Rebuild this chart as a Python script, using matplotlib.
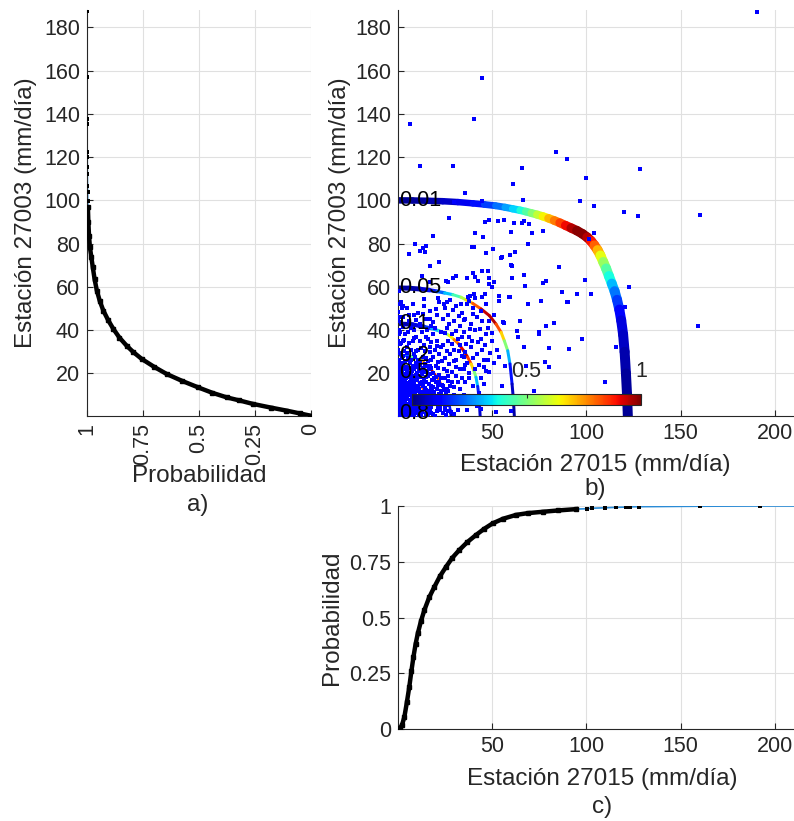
import numpy as np
import matplotlib
matplotlib.use("Agg")
import matplotlib.pyplot as plt
from matplotlib.collections import LineCollection
from matplotlib import cm, colors

plt.rcParams['font.family'] = ['Liberation Sans', 'DejaVu Sans']

# ---------------- data ----------------
# a) empirical CDF, station 27003
v27003 = [0.5, 1.5, 2.8, 4.2, 5.9, 7.5, 8.9, 11, 13.5, 16.5, 19.7, 23, 26.7, 30, 32.8,
          36.5, 40.5, 44.5, 49, 53.5, 58.3, 63.5, 69, 74, 78.3, 83.7, 90, 96.8]
p27003 = [0.005, 0.05, 0.11, 0.18, 0.26, 0.32, 0.376, 0.44, 0.503, 0.575, 0.644, 0.70,
          0.756, 0.795, 0.823, 0.855, 0.882, 0.905, 0.927, 0.943, 0.956, 0.966, 0.974,
          0.981, 0.987, 0.991, 0.994, 0.996]
v27003_tail = [99.9, 103.7, 106.5, 112.2, 115.3, 119.9, 122.2, 135.3, 137.7, 156.9, 187.7]
p27003_tail = [0.997, 0.9975, 0.998, 0.9985, 0.9988, 0.999, 0.9992, 0.9994, 0.9996, 0.9998, 1.0]

# c) empirical CDF, station 27015
x27015 = [0.5, 1.4, 2.5, 3.7, 5, 6.3, 7.4, 8.5, 9.6, 10.8, 12.5, 14.3, 16.8, 19.6, 22.5,
          25.8, 29, 32.8, 37, 41.6, 46, 50.4, 56, 62.8, 69, 76.9, 85, 94.6]
p27015 = [0, 0.003, 0.02, 0.055, 0.12, 0.19, 0.26, 0.324, 0.38, 0.429, 0.485, 0.534, 0.59,
          0.638, 0.685, 0.728, 0.767, 0.803, 0.838, 0.87, 0.898, 0.922, 0.943, 0.96, 0.968,
          0.974, 0.98, 0.986]
x27015_tail = [100.5, 103, 110, 116, 121, 123, 128, 160, 192]
p27015_tail = [0.988, 0.99, 0.992, 0.994, 0.995, 0.996, 0.997, 0.999, 1.0]
# fitted CDF end (blue line runs to the axis end)
x27015_fit_end = [210]
p27015_fit_end = [1.0]

# b) paired observations (27015, 27003)
pairs_sparse = [
    (190.3, 187.1), (44.6, 156.6), (40.4, 137.7), (6.9, 135.2), (12, 115.8), (29.5, 115.8),
    (84, 122.2), (90, 119), (66, 115.1), (128.2, 114.7), (61, 107.6), (99.8, 110.4),
    (120, 94.7), (127.2, 92.8), (160.3, 93.3), (122.8, 60), (120.5, 50.9), (159.3, 41.8),
    (116, 32), (110, 16.2), (96.6, 99.9), (104.2, 97.6), (104.2, 84.8), (101.6, 82.2),
    (85.7, 69.4), (99.3, 63.2), (87, 57.5), (94.9, 56.6), (102.5, 56.6), (89.6, 53.2),
    (98, 35.9), (35.8, 103.6), (66.5, 100.3), (29.8, 99.1), (44.6, 99.6), (27.1, 91.7),
    (46.4, 89.9), (48.3, 91), (53.4, 90.3), (56.3, 91.1), (61.5, 89.4), (66, 89.4),
    (66.8, 90.6), (69.8, 89.1), (77.2, 86), (71.3, 84.8), (60, 85.5), (41.3, 85.1),
    (45.1, 82.9), (19, 83.7), (69, 79.9), (9.5, 79.9), (15.2, 78.9), (13.5, 77.9),
    (12.2, 76.5), (14.6, 76), (6.3, 75.2), (39.3, 78.3), (40.7, 78.3), (50.6, 77.4),
    (46.9, 75.5), (62.4, 76), (59.8, 74.9), (54.9, 73.4), (22.2, 71.7), (17.5, 69.8),
    (44.6, 67.5), (47.7, 67.3), (39.9, 66.4), (60.2, 70.3), (36.7, 64.1), (31, 65.2),
    (29.3, 64.1), (12.9, 65.2), (41.2, 64.6), (48.3, 64.1), (25.8, 62.9), (27, 62.1),
    (51, 62.1), (60.5, 64), (78.7, 62.9), (17, 62.1), (49.9, 60.1), (59.8, 55.5), (54, 53.6),
    (69, 52.1), (76, 53.6), (38.6, 56), (41, 55), (44.6, 55.3), (46.4, 56.8), (21.7, 54.9),
    (14.3, 54.2), (24.6, 52.3), (2.6, 50.3), (33.5, 51.9), (78.7, 41.8), (75.1, 38.2),
    (56.6, 43.1), (67.2, 32), (68.1, 23.6), (80.4, 22.8), (91, 31.3), (63.7, 36.7), (54, 6),
    (52.2, 2), (55.2, 73.7), (60.7, 69.8), (42.6, 62.9), (48.7, 61.4), (67.2, 65.5),
    (77.2, 61.7), (67.6, 60.5), (90.1, 52.9), (59.3, 55.2), (54, 55.7), (40.7, 56.7),
    (38.1, 53.6), (64.9, 44.4), (55.7, 43.6), (48.3, 44), (63.1, 39.8), (74.8, 39),
    (83, 43.3), (80, 31.6), (78.3, 25.1), (54, 27.4), (48, 26), (48.7, 20.5), (55.4, 14.3),
    (57.1, 23.4), (72.5, 12), (78.7, 6.6), (60.2, 2.8), (44.3, 3.5), (3.2, 51.3), (1.2, 46),
    (2.8, 35.1),
]
pairs_mid = [
    (22, 53), (25, 50), (28, 54), (31, 51), (34, 48), (37, 52), (40, 50), (44, 49), (47, 52),
    (21, 47), (24, 45), (27, 47), (30, 44), (33, 42), (36, 45), (39, 43), (42, 46), (45, 44),
    (48, 41), (51, 47), (20, 41), (23, 39), (26, 41), (29, 38), (32, 36), (35, 39), (38, 37),
    (41, 40), (44, 36), (47, 38), (50, 35), (21, 35), (24, 33), (27, 35), (30, 31), (33, 33),
    (36, 30), (39, 32), (42, 29), (45, 31), (22, 29), (25, 27), (28, 29), (31, 26), (34, 28),
    (37, 25), (40, 27), (43, 24), (46, 26), (35, 22), (38, 20), (41, 22), (44, 18), (47, 21),
    (36, 16), (40, 14), (43, 11), (46, 15), (39, 8), (42, 5), (45, 9), (37, 3), (33, 6),
    (30, 10), (2, 53), (5, 50), (8, 52), (11, 48), (14, 51), (17, 49), (3, 46), (6, 44),
    (9, 47), (12, 43), (15, 45), (18, 42), (1, 40), (4, 38), (7, 41), (10, 37), (13, 39),
    (16, 36), (19, 38), (2, 34), (5, 32), (8, 35), (11, 31), (14, 33), (17, 30), (3, 28),
    (6, 26), (9, 29), (12, 25), (15, 27), (18, 26), (23, 18), (26, 21), (29, 16), (31, 19),
    (33, 13), (26, 12.8), (29, 9), (24, 7.2), (32, 3.2), (28, 14), (34, 18), (31, 23),
    (22, 16), (25, 3), (35, 10), (36, 24), (38, 18), (30, 5.8), (27, 18.6), (24.5, 22),
    (21.6, 22.5),
]
pairs_core = [
    (0.5, 1), (1.5, 2.5), (3, 1.2), (4, 3), (5.5, 0.8), (7, 2), (8.5, 1.5), (10, 2.8),
    (11.5, 0.9), (13, 2.2), (15, 1.4), (17, 2.9), (19, 1), (21, 2.4), (24, 1.6), (27, 2.7),
    (30, 1.1), (1, 4.2), (2.5, 5.5), (4.5, 4.8), (6, 6), (7.5, 4.3), (9, 5.7), (10.5, 4.6),
    (12, 6.2), (14, 4.9), (16, 5.8), (18, 4.4), (20, 6.1), (22.5, 5), (25, 4.5), (28, 5.9),
    (0.8, 7.5), (2.2, 8.6), (3.8, 7.2), (5.2, 9), (6.8, 7.8), (8.2, 8.9), (9.8, 7.4),
    (11.2, 9.3), (12.8, 7.9), (14.5, 8.8), (16.5, 7.5), (18.5, 9.1), (21, 8), (23.5, 9.4),
    (26, 7.6), (0.5, 10.5), (2, 11.8), (3.5, 10.2), (5, 12), (6.5, 10.8), (8, 12.4),
    (9.5, 10.6), (11, 11.9), (13, 10.3), (15, 12.2), (17, 10.9), (19.5, 11.6), (22, 10.4),
    (24.5, 12.5), (1.2, 13.5), (2.8, 14.8), (4.3, 13.2), (6, 15), (7.5, 13.8), (9, 15.3),
    (10.8, 13.6), (12.5, 14.9), (14.5, 13.4), (16.8, 15.1), (19, 13.9), (21.5, 14.7),
    (1, 16.8), (2.5, 18), (4, 16.5), (5.8, 18.4), (7.2, 17), (8.8, 18.6), (10.5, 16.9),
    (12.2, 18.2), (14, 17.3), (16, 18.8), (18.3, 17.1), (20.5, 18.5), (0.6, 20), (2, 21.5),
    (3.7, 19.8), (5.3, 21.2), (7, 20.3), (8.6, 21.8), (10.3, 20.1), (12, 21.6), (14, 20.6),
    (16.5, 21.9), (19, 20.4), (1.4, 23.3), (3, 24.6), (4.7, 23), (6.5, 24.8), (8.3, 23.5),
    (10, 25), (12, 23.8), (14.5, 24.4), (17, 23.2), (1.8, 0.6), (3.3, 2), (4.8, 1.9),
    (6.2, 3.4), (7.8, 0.7), (9.3, 3.6), (2, 3.5), (0.3, 5.8), (3.2, 6.5), (5.8, 2.6),
    (8.8, 6.8), (11, 3.5), (13.5, 5.5), (1.5, 9.6), (4.4, 11), (7.3, 9.9), (0.9, 12.5),
    (3.9, 15.9), (6.7, 16.2), (9.7, 19.1), (0.4, 18.9), (2.9, 22.4), (0.7, 26), (2, 29),
    (0.3, 31), (0.5, 35), (0.4, 44), (1.6, 39), (0.6, 52), (0.9, 58), (0.6, 3), (2.6, 0.5),
    (4.2, 6.3), (6.6, 4.5), (1.1, 11.2), (3.1, 12.9), (5.6, 13.9), (8.1, 14.4), (2.3, 16),
    (4.8, 19.4), (7.9, 22.4), (11.6, 12.8), (15.6, 9.8), (13.2, 16.2), (17.6, 13),
    (19.8, 8.2), (23, 12), (25.5, 10.3), (11, 22.8), (15.3, 23.3),
]
pairs_core2 = [
    (1.3, 0.3), (2.4, 1.4), (3.9, 0.4), (5.1, 2.7), (6.6, 1.3), (7.4, 3.1), (8.9, 0.4),
    (9.6, 2.1), (10.8, 1.8), (12.3, 3.2), (12.6, 0.5), (14.2, 3.5), (15.8, 0.6), (16.3, 2.3),
    (18, 1.7), (20, 0.4), (22.6, 3.3), (25.6, 0.7), (28.5, 2.2), (0.9, 5.1), (1.9, 6.8),
    (3.4, 4.1), (5, 5.8), (6.9, 6.7), (8.1, 5), (9.9, 6.3), (11.5, 5.4), (13, 4.2),
    (14.8, 6.6), (17, 4.8), (19.2, 6.9), (21.3, 4.2), (23.8, 6.4), (26.5, 5.3), (1.6, 8.2),
    (3.1, 9.4), (4.5, 8), (6, 9.8), (7.6, 8.5), (9, 9.9), (10.6, 8.3), (12, 10.2),
    (13.8, 9.5), (15.6, 8.1), (17.7, 9.8), (20.2, 9.2), (22.6, 7.3), (25, 9), (28, 8.3),
    (1.8, 12.6), (3.6, 11.6), (5.3, 10.6), (7, 12.6), (8.7, 11.3), (10.2, 12.8), (12, 11.5),
    (14, 11.3), (16, 11.8), (18.2, 12.3), (20.8, 12.6), (23.3, 11.2), (26.8, 12), (0.7, 15),
    (2, 14.2), (3.4, 14.3), (5, 15.7), (6.8, 14.1), (8.3, 16.4), (10, 14.4), (11.7, 15.7),
    (13.5, 14.3), (15.3, 15.9), (17.8, 14.3), (20.3, 15.8), (23.8, 14.8), (1.6, 18.7),
    (3.2, 17.2), (4.7, 18), (6.4, 19.6), (7.9, 18.1), (9.4, 17.3), (11.3, 19), (13, 19.6),
    (15, 18.2), (17.2, 19.6), (19.5, 17.7), (22, 19.3), (1.1, 22), (2.6, 20.6), (4.1, 22.2),
    (6, 22.5), (7.6, 21.1), (9.3, 23.1), (11.2, 21.2), (13.3, 22.7), (15.6, 20.7), (18, 22.3),
    (20.5, 23.6), (0.9, 25.4), (2.3, 26.9), (4, 25.8), (5.6, 27.2), (7.4, 26), (9.3, 27.6),
    (11, 26.3), (13.4, 27.8), (16, 25.6), (19, 27.4), (21.4, 25.3), (1.4, 29.6), (3.4, 30.5),
    (5.2, 29.3), (7.2, 31), (9.6, 30.2), (12.3, 31.6), (14.6, 30.3), (17.2, 32.2),
    (19.8, 30.9), (1.1, 33.5), (3.6, 35.4), (6, 34.2), (8.6, 36.5), (12, 34.8), (15, 36.9),
    (18, 34.5), (21, 32.8), (0.8, 38.2), (2.8, 41.6), (5.6, 39), (9, 40.2), (12, 41.8),
    (15.5, 40), (19, 43.6), (0.5, 48.5), (1.8, 43.8), (6, 47.2), (9.8, 44.5), (13.5, 47.3),
    (17, 45.2), (20.5, 49.6), (24, 14.2), (27, 16.6), (30, 13.5), (32, 16), (25.2, 17.8),
    (28.8, 20.8), (33, 21.8), (30.2, 25.5), (27.5, 24.3), (23.5, 25.6), (35.5, 27.5),
    (32.5, 30.3), (29, 33.6), (26.5, 30.5), (23.2, 32), (36.5, 33.5), (34, 36.8), (31, 39.8),
    (27.5, 43), (25, 38.5), (38.5, 40.5), (35, 44.6), (32.5, 46.6), (29.5, 49.5), (26, 53),
    (42.5, 34.5), (40, 47.5), (37.5, 55.3), (46.5, 33), (50, 38.7), (43.5, 40.5), (49, 29.5),
    (52.5, 31), (51, 25), (46, 23), (39.5, 35),
]

# b) probability isolines: x (27015), y (27003), colour value along the line
levels = ['0.01', '0.05', '0.1', '0.2', '0.5', '0.8']
c01_x = [0, 8, 16, 24, 32, 40, 46, 52, 57, 61, 65, 68, 71, 74, 77, 80, 83, 86, 89, 92, 95, 98,
         100.5, 102.5, 104.3, 106, 107.5, 109, 110.5, 112, 113.5, 115, 116.3, 117.5, 118.5,
         119.5, 120.3, 121, 121.6, 122]
c01_y = [100, 99.95, 99.8, 99.6, 99.2, 98.6, 98.1, 97.5, 96.8, 96.1, 95.4, 94.8, 94.1, 93.4,
         92.6, 91.7, 90.7, 89.6, 88.4, 87.2, 86.0, 84.5, 82.9, 81.2, 79.2, 77, 74.5, 71.5, 68.5,
         65, 61.5, 58, 54, 49.5, 44.5, 38, 30, 20, 10, 0.3]
c01_c = [0.02, 0.02, 0.03, 0.05, 0.08, 0.12, 0.16, 0.21, 0.26, 0.31, 0.36, 0.42, 0.48, 0.55,
         0.62, 0.68, 0.75, 0.81, 0.87, 0.93, 0.98, 1.0, 0.98, 0.92, 0.85, 0.76, 0.67, 0.58,
         0.49, 0.41, 0.34, 0.27, 0.21, 0.15, 0.1, 0.07, 0.05, 0.03, 0.02, 0.02]
c05_x = [0, 6, 12, 17, 21, 25, 29.3, 33.7, 36.3, 39.8, 44.3, 48.7, 52.2, 54.9, 56.6, 58.4,
         59.6, 60.7, 61.4, 61.9]
c05_y = [59.5, 59.4, 59.0, 58.5, 57.9, 57.2, 56.4, 55.2, 54.0, 52.4, 49.8, 46.7, 42.8, 39.0,
         35.1, 30.5, 24.4, 15.1, 8, 0.3]
c05_c = [0.03, 0.03, 0.05, 0.1, 0.18, 0.27, 0.37, 0.5, 0.62, 0.75, 0.88, 1.0, 0.9, 0.75,
         0.62, 0.4, 0.2, 0.08, 0.04, 0.03]
c1_x = [0, 8, 14, 18, 22, 25, 27.5, 30, 32.5, 35, 37.2, 39, 40.5, 41.6, 42.5, 43.2, 43.8]
c1_y = [43, 42.6, 41.6, 40.8, 39.7, 38.7, 37.5, 35.6, 33.6, 30.5, 27.5, 24.4, 21.3, 18.2,
        14, 9, 0.3]
c1_c = [0.03, 0.05, 0.12, 0.22, 0.37, 0.48, 0.58, 0.72, 0.85, 0.98, 0.92, 0.76, 0.6, 0.4,
        0.22, 0.1, 0.04]
c2_x = [0, 4, 7.5, 11, 14, 16.5, 19, 21.5, 23.5, 25, 26.3, 27.3, 28, 28.3]
c2_y = [28.5, 28.3, 27.8, 26.5, 25, 23.2, 20.5, 17.5, 14.5, 12, 9.5, 6.5, 3, 0.3]
c2_c = [0.03, 0.1, 0.35, 0.6, 0.8, 0.92, 0.98, 0.88, 0.72, 0.55, 0.38, 0.2, 0.08, 0.04]
c5_x = [0, 3, 5.5, 8, 10.5, 12.5, 14, 15, 15.7, 16.2, 16.5]
c5_y = [20.5, 20.3, 19.8, 18.8, 17, 14.5, 12, 9.5, 7, 4, 0.3]
c5_c = [0.03, 0.2, 0.55, 0.85, 0.98, 0.9, 0.7, 0.5, 0.3, 0.12, 0.04]
c8_x = [0, 1, 2, 3, 3.6, 4]
c8_y = [1.5, 1.5, 1.3, 1.0, 0.6, 0.3]
c8_c = [0.03, 0.4, 0.9, 0.8, 0.4, 0.05]

curves = [(c01_x, c01_y, c01_c), (c05_x, c05_y, c05_c), (c1_x, c1_y, c1_c),
          (c2_x, c2_y, c2_c), (c5_x, c5_y, c5_c), (c8_x, c8_y, c8_c)]

# line widths along each isoline (pixels)
curve_w = [
    [6.5] * 6 + [6.7, 6.9, 7.1, 7.3, 7.5, 7.7, 7.9, 8.1, 8.3, 8.5, 8.7, 8.9, 9.1, 9.3, 9.5,
                 9.6, 9.7, 9.8, 9.9] + [10] * 15,
    [5, 5, 4.8, 4.2, 3.6, 3.2] + [3] * 14,
    [4.5, 4.5, 4, 3.5] + [3] * 13,
    [2.6] * 14,
    [2.4] * 11,
    [2.2] * 6,
]

# ---------------- plot ----------------
W, H = 794, 821
fig = plt.figure(figsize=(W / 100, H / 100), dpi=100)

def px_axes(l, t, r, b):
    return fig.add_axes([l / W, 1 - b / H, (r - l) / W, (b - t) / H])

ink = '#262626'
blue_line = '#2a8bd6'
tick_fs = 15.5
lab_fs = 17.5

def style(ax):
    for s in ['top', 'right']:
        ax.spines[s].set_visible(False)
    for s in ['left', 'bottom']:
        ax.spines[s].set_color(ink)
        ax.spines[s].set_linewidth(0.8)
    ax.tick_params(direction='in', length=4, width=0.8, color=ink, labelcolor=ink,
                   labelsize=tick_fs, pad=5)
    ax.grid(True, color='#e0e0e0', linewidth=0.8)
    ax.set_axisbelow(True)

ax_a = px_axes(87, 10, 311, 416)
ax_b = px_axes(398, 10, 794, 416)
ax_c = px_axes(398, 506, 794, 729)

# a)
style(ax_a)
ax_a.plot(p27003 + p27003_tail, v27003 + v27003_tail, color=blue_line, lw=1.2, zorder=2)
ax_a.plot(p27003, v27003, color='k', lw=3.2, marker='s', ms=2.5, zorder=3)
ax_a.plot(p27003_tail, v27003_tail, 's', color='k', ms=2.2, mew=0, zorder=3)
ax_a.set_xlim(1, 0)
ax_a.set_ylim(0.3, 188)
ax_a.set_xticks([1, 0.75, 0.5, 0.25, 0])
ax_a.set_xticklabels(['1', '0.75', '0.5', '0.25', '0'], rotation=90)
ax_a.set_yticks(range(20, 181, 20))
ax_a.set_xlabel('Probabilidad', fontsize=lab_fs, color=ink, va='center')
ax_a.xaxis.set_label_coords(0.5, (416 - 476) / 406)
ax_a.set_ylabel('Estación 27003 (mm/día)', fontsize=lab_fs, color=ink, va='center')
ax_a.yaxis.set_label_coords((26 - 87) / 224, 0.5)

# b)
style(ax_b)
jet = plt.get_cmap('jet')
for (xs, ys, cs), ws in zip(curves, curve_w):
    pts = np.column_stack([xs, ys])
    segs = np.stack([pts[:-1], pts[1:]], axis=1)
    cmid = (np.array(cs[:-1]) + np.array(cs[1:])) / 2
    wmid = (np.array(ws[:-1]) + np.array(ws[1:])) / 2 * 0.72
    lc = LineCollection(segs, colors=jet(cmid), linewidths=wmid, capstyle='round', zorder=2)
    ax_b.add_collection(lc)
for name, (xs, ys, cs) in zip(levels, curves):
    ax_b.text(0.8, ys[0], name, fontsize=15.5, color='k', ha='left', va='center', zorder=5)

pairs = pairs_sparse + pairs_mid + pairs_core + pairs_core2
s27015 = [p[0] for p in pairs]
s27003 = [p[1] for p in pairs]
ax_b.plot(s27015, s27003, 's', color='#0000ff', ms=2.3, mew=0, zorder=4)
ax_b.set_xlim(0.3, 210)
ax_b.set_ylim(0.3, 188)
ax_b.set_xticks([50, 100, 150, 200])
ax_b.set_yticks(range(20, 181, 20))
ax_b.set_xlabel('Estación 27015 (mm/día)', fontsize=lab_fs, color=ink, va='center')
ax_b.xaxis.set_label_coords((595 - 398) / 396, (416 - 465) / 406)
ax_b.set_ylabel('Estación 27003 (mm/día)', fontsize=lab_fs, color=ink, va='center')
ax_b.yaxis.set_label_coords((340 - 398) / 396, 0.5)

cax = fig.add_axes([412 / W, 1 - 405 / H, 229 / W, 11 / H])
sm = cm.ScalarMappable(norm=colors.Normalize(0, 1), cmap='jet')
cb = fig.colorbar(sm, cax=cax, orientation='horizontal', ticks=[0.5, 1])
cax.xaxis.set_ticks_position('top')
cax.set_xticklabels(['0.5', '1'])
cax.tick_params(direction='in', length=3, width=0.8, color=ink, labelcolor=ink,
                labelsize=tick_fs, pad=9)
cb.outline.set_edgecolor(ink)
cb.outline.set_linewidth(0.8)

# c)
style(ax_c)
ax_c.plot(x27015 + x27015_tail + x27015_fit_end, p27015 + p27015_tail + p27015_fit_end,
          color=blue_line, lw=1.2, zorder=2)
ax_c.plot(x27015, p27015, color='k', lw=3.2, marker='s', ms=2.5, zorder=3)
ax_c.plot(x27015_tail, p27015_tail, 's', color='k', ms=2.2, mew=0, zorder=3)
ax_c.set_xlim(0.3, 210)
ax_c.set_ylim(0, 1)
ax_c.set_xticks([50, 100, 150, 200])
ax_c.set_yticks([0, 0.25, 0.5, 0.75, 1])
ax_c.set_yticklabels(['0', '0.25', '0.5', '0.75', '1'])
ax_c.set_xlabel('Estación 27015 (mm/día)', fontsize=lab_fs, color=ink, va='center')
ax_c.xaxis.set_label_coords((602 - 398) / 396, (729 - 779) / 223)
ax_c.set_ylabel('Probabilidad', fontsize=lab_fs, color=ink, va='center')
ax_c.yaxis.set_label_coords((332 - 398) / 396, 0.5)

fig.text(198 / W, 1 - 505 / H, 'a)', fontsize=lab_fs, color=ink, ha='center', va='center')
fig.text(595 / W, 1 - 489 / H, 'b)', fontsize=lab_fs, color=ink, ha='center', va='center')
fig.text(602 / W, 1 - 807 / H, 'c)', fontsize=lab_fs, color=ink, ha='center', va='center')

fig.savefig('out.png', dpi=100)
